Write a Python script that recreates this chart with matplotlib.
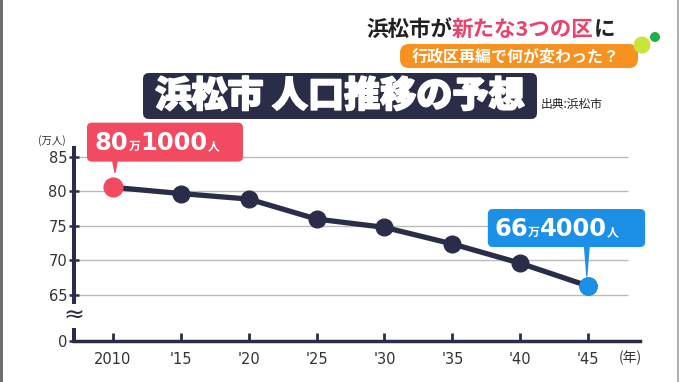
import matplotlib
matplotlib.use("Agg")
import matplotlib.pyplot as plt
import matplotlib.transforms as mtransforms
from matplotlib.patches import FancyBboxPatch, Polygon, Circle, Rectangle
from matplotlib import patheffects as pe

plt.rcParams['font.family'] = ['Noto Sans CJK JP', 'DejaVu Sans']

# ---- data ----
years = [2010, 2015, 2020, 2025, 2030, 2035, 2040, 2045]
population = [80.6, 79.7, 78.9, 76.0, 74.8, 72.4, 69.6, 66.3]  # 万人
xtick_labels = ['2010', "'15", "'20", "'25", "'30", "'35", "'40", "'45"]
ytick_values = [65, 70, 75, 80, 85]
ytick_labels = ['65', '70', '75', '80', '85']
axis_zero_pos = 58.33  # position where the broken axis shows 0
first_label = [("80", 'big'), ("万", 'small'), ("1000", 'big'), ("人", 'small')]
last_label = [("66", 'big'), ("万", 'small'), ("4000", 'big'), ("人", 'small')]
title = "浜松市 人口推移の予想"
source = "出典:浜松市"
header_parts = [("浜松市が", '#222222'), ("新たな3つの区", '#e8446e'), ("に", '#222222')]
banner = "行政区再編で何が変わった？"

W, H = 680, 382
NAVY = '#2b2c47'
PINK = '#f24a60'
BLUE = '#1c8fe6'

fig = plt.figure(figsize=(W / 100, H / 100), dpi=100)
fig.patch.set_facecolor('white')

ax = fig.add_axes([74 / W, (H - 341) / H, (640 - 74) / W, (341 - 148) / H])
ax.set_facecolor('none')
ax.set_xlim(2007.13, 2048.82)
ax.set_ylim(axis_zero_pos, 86.3)

for s in ['top', 'right']:
    ax.spines[s].set_visible(False)
ax.spines['left'].set_linewidth(2.9)
ax.spines['left'].set_color(NAVY)
ax.spines['bottom'].set_linewidth(2.5)
ax.spines['bottom'].set_color(NAVY)

ax.set_xticks(years)
ax.set_xticklabels(xtick_labels, fontsize=10.5, color='#333333', family='DejaVu Sans')
ax.tick_params(axis='x', direction='in', length=5.5, width=2.0, color=NAVY, pad=8)
ax.set_yticks([axis_zero_pos] + ytick_values)
ax.set_yticklabels(['0'] + ytick_labels, fontsize=10.5, color='#333333', family='DejaVu Sans')
ax.tick_params(axis='y', direction='inout', length=7, width=1.8, color=NAVY, pad=1.5)

# grid lines
ax.hlines(ytick_values, 2007.13, 2047.9, color='#bbbbbb', lw=1.0, zorder=1)

# line and markers
ax.plot(years, population, color=NAVY, lw=3.8, marker='o', ms=12, zorder=3, solid_capstyle='round')
ax.plot(years[0], population[0], 'o', color=PINK, ms=13.5, zorder=4)
ax.plot(years[-1], population[-1], 'o', color=BLUE, ms=12.5, zorder=4)

# axis break symbol
brk = mtransforms.blended_transform_factory(ax.transAxes, ax.transData)
ax.text(0, 61.96, '≈', transform=brk, ha='center', va='center', fontsize=18, color=NAVY,
        family='DejaVu Sans', zorder=5, clip_on=False,
        bbox=dict(boxstyle='square,pad=0.0', fc='white', ec='none'))

# axis unit labels
ax.annotate('(万人)', xy=(52, H - 141), xycoords='figure pixels', ha='center', va='center',
            fontsize=7.5, color='#333333')
ax.annotate('(年)', xy=(630, H - 358), xycoords='figure pixels', ha='center', va='center',
            fontsize=10, color='#333333')


def callout(x, y, color, box, tip, pieces, xstart, baseline):
    tr = mtransforms.IdentityTransform() + mtransforms.ScaledTranslation(x, y, ax.transData)
    l, r, b, t = box
    ax.add_patch(FancyBboxPatch((l, b), r - l, t - b, boxstyle='round,pad=0,rounding_size=5',
                                fc=color, ec='none', transform=tr, zorder=6, clip_on=False))
    ax.add_patch(Polygon([(tip[0] - 3, b + 1), (tip[0] + 3, b + 1), (tip[0] + 0.6, tip[1]),
                          (tip[0] - 0.6, tip[1])],
                         closed=True, fc=color, ec='none', transform=tr, zorder=6, clip_on=False))
    prev = None
    for s, kind in pieces:
        kw = dict(fontsize=17.5, family=['DejaVu Sans'], fontweight='bold') if kind == 'big' else \
            dict(fontsize=8.5, family=['Noto Sans CJK JP'], fontweight='bold')
        if prev is None:
            prev = ax.annotate(s, xy=(xstart, baseline), xycoords=tr, ha='left', va='baseline',
                               color='white', zorder=7, annotation_clip=False, **kw)
        else:
            prev = ax.annotate(s, xy=(1, baseline), xycoords=(prev, tr), ha='left', va='baseline',
                               color='white', zorder=7, annotation_clip=False, **kw)


callout(years[0], population[0], PINK, (-26, 130, 25.7, 64.7), (2, 14.5), first_label, -18, 37)
callout(years[-1], population[-1], BLUE, (-100.3, 57, 39, 77), (-1.3, 9.5), last_label, -94, 50)

# ---- title box ----
ID = mtransforms.IdentityTransform()
fig.add_artist(FancyBboxPatch((143, H - 119), 537 - 143, 46, boxstyle='round,pad=0,rounding_size=6',
                              fc=NAVY, ec='none', transform=ID))
fig.text(340 / W, 1 - 96 / H, title, ha='center', va='center', color='white', fontsize=26,
         fontweight='heavy', path_effects=[pe.withStroke(linewidth=1.2, foreground='white')])
fig.text(541 / W, 1 - 104 / H, source, ha='left', va='center', color='#222222', fontsize=8.5)

# ---- header ----
prev = None
for s, c in header_parts:
    if prev is None:
        prev = ax.annotate(s, xy=(366, H - 36), xycoords='figure pixels', ha='left', va='baseline',
                           color=c, fontsize=15.5, fontweight='bold', annotation_clip=False)
    else:
        prev = ax.annotate(s, xy=(1, H - 36), xycoords=(prev, 'figure pixels'), ha='left',
                           va='baseline', color=c, fontsize=15.5, fontweight='bold',
                           annotation_clip=False)

fig.add_artist(FancyBboxPatch((400, H - 68), 238, 24, boxstyle='round,pad=0,rounding_size=9',
                              fc='#f7911f', ec='none', transform=ID))
fig.text(516 / W, 1 - 56.5 / H, banner, ha='center', va='center', color='white', fontsize=11.5,
         fontweight='bold')
fig.add_artist(Circle((642, H - 45), 8.5, fc='#c8e43a', ec='none', transform=ID))
fig.add_artist(Circle((655, H - 37), 5, fc='#20b04a', ec='none', transform=ID))

# frame edges
fig.add_artist(Rectangle((0, 0), 2.5, H, fc='#6e6e6e', ec='none', transform=ID))
fig.add_artist(Rectangle((677, 0), 1.5, H, fc='#b0b0b0', ec='none', transform=ID))

fig.savefig('out.png', dpi=100, facecolor='white')
